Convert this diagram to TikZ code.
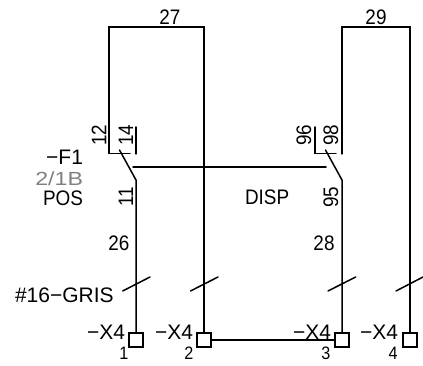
\documentclass[tikz,border=0pt]{standalone}
\usepackage{fontspec}
\setmainfont{Liberation Sans}
\newfontfamily\narrowlab[FakeStretch=0.9]{Liberation Sans}
\newfontfamily\widelab[FakeStretch=1.22]{Liberation Sans}
\tikzset{
  x=1pt,y=-1pt,
  wire/.style={line width=1.5pt,black,line cap=round,line join=miter},
  terminal/.style={draw=black,line width=1.5pt,fill=white,minimum size=14pt,inner sep=0pt,outer sep=0pt,shape=rectangle},
  lbl/.style={inner sep=0pt,outer sep=0pt,font=\narrowlab\fontsize{21}{21}\selectfont,text=black},
  dashlbl/.style={inner sep=0pt,outer sep=0pt,font=\fontsize{21}{21}\selectfont,text=black},
  rlbl/.style={lbl,rotate=90},
  num/.style={inner sep=0pt,outer sep=0pt,font=\narrowlab\fontsize{18}{18}\selectfont,text=black},
  ref/.style={inner sep=0pt,outer sep=0pt,font=\widelab\fontsize{19}{19}\selectfont,text=black!50},
}
\begin{document}
\begin{tikzpicture}
\useasboundingbox (0,0) rectangle (423,366);
% terminals
\node[terminal] (t1) at (136,340) {};
\node[terminal] (t2) at (204,340) {};
\node[terminal] (t3) at (342,340) {};
\node[terminal] (t4) at (410,340) {};
% corner and end coordinates
\coordinate (a1) at (109,27);
\coordinate (a2) at (204,27);
\coordinate (a3) at (109,153.5);
\coordinate (a4) at (130,153.5);
\coordinate (b1) at (136,127);
\coordinate (b2) at (136,154);
\coordinate (c1) at (119.5,150);
\coordinate (c2) at (136,180);
\coordinate (d1) at (133,167);
\coordinate (d2) at (326,167);
\coordinate (e1) at (342,27);
\coordinate (e2) at (410,27);
\coordinate (e3) at (342,154);
\coordinate (f1) at (315,127);
\coordinate (f2) at (315,153.5);
\coordinate (f3) at (336,153.5);
\coordinate (g1) at (325.5,150);
\coordinate (g2) at (342,180);
\coordinate (s1a) at (122.7,291);\coordinate (s1b) at (150,277);
\coordinate (s2a) at (190.5,291);\coordinate (s2b) at (218,277);
\coordinate (s3a) at (328,291);\coordinate (s3b) at (355.7,277);
\coordinate (s4a) at (396,291);\coordinate (s4b) at (423,277);
% wires
\draw[wire] (a3) -- (a1) -- (a2) -- (t2.north);
\draw[wire] (a4) -- (a3);
\draw[wire] (b1) -- (b2);
\draw[wire] (c1) -- (c2) -- (t1.north);
\draw[wire] (d1) -- (d2);
\draw[wire] (e3) -- (e1) -- (e2) -- (t4.north);
\draw[wire] (f1) -- (f2) -- (f3);
\draw[wire] (g1) -- (g2) -- (t3.north);
\draw[wire] (t2.east) -- (t3.west);
\draw[wire] (s1a) -- (s1b);
\draw[wire] (s2a) -- (s2b);
\draw[wire] (s3a) -- (s3b);
\draw[wire] (s4a) -- (s4b);
% labels
\node[lbl] (l27) at (170,17) {27};
\node[lbl] (l29) at (376,17) {29};
\node[rlbl] (l12) at (99,135) {12};
\node[rlbl] (l14) at (126,135) {14};
\node[rlbl] (l11) at (126,197) {11};
\node[rlbl] (l96) at (304,135) {96};
\node[rlbl] (l98) at (331,135) {98};
\node[rlbl] (l95) at (331,197) {95};
\node[dashlbl,anchor=east] (lf1) at (83,157) {−F1};
\node[ref,anchor=east] (lref) at (83,178.5) {2/1B};
\node[lbl,anchor=east] (lpos) at (83,198) {POS};
\node[lbl,anchor=west] (ldisp) at (245,197) {DISP};
\node[lbl] (l26) at (119,243) {26};
\node[lbl] (l28) at (324,243) {28};
\node[dashlbl,anchor=west] (lgris) at (15,295) {\#16−GRIS};
\node[dashlbl,anchor=east] (x1) at (125,332) {−X4};
\node[dashlbl,anchor=east] (x2) at (193,332) {−X4};
\node[dashlbl,anchor=east] (x3) at (331,332) {−X4};
\node[dashlbl,anchor=east] (x4) at (398,332) {−X4};
\node[num] (n1) at (124,353) {1};
\node[num] (n2) at (189,353) {2};
\node[num] (n3) at (326,353) {3};
\node[num] (n4) at (393,353) {4};
\end{tikzpicture}
\end{document}
